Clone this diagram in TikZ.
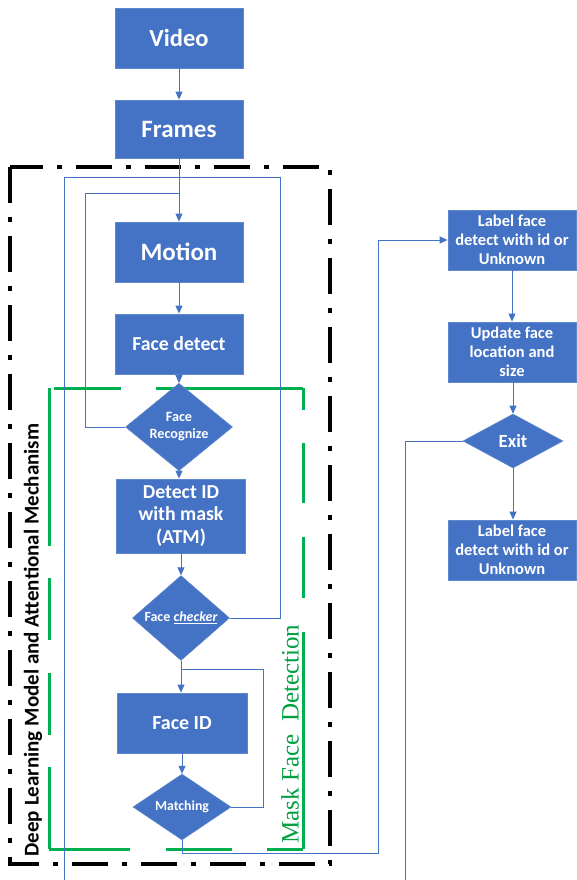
\documentclass[tikz,border=0pt]{standalone}
\usepackage{fontspec}
\setmainfont{Carlito}
\newfontfamily\greenserif{Liberation Serif}
\usetikzlibrary{shapes.geometric,arrows.meta}
\definecolor{ofblue}{HTML}{4472C4}
\definecolor{ofgreen}{HTML}{00B050}
\definecolor{txtgreen}{HTML}{00A040}
\tikzset{
  box/.style={rectangle, fill=ofblue, draw=ofblue!85!white, line width=0.8pt, text=white,
    font=\bfseries, minimum width=128pt, minimum height=60pt, inner sep=0pt, align=center},
  dia/.style={diamond, fill=ofblue, draw=ofblue!85!white, line width=0.6pt, text=white,
    font=\bfseries, inner sep=0pt, align=center},
  flow/.style={draw=ofblue, line width=1pt, -{Triangle[length=8pt,width=7pt]}},
  link/.style={draw=ofblue, line width=0.8pt},
  blackframe/.style={draw=black, line width=4pt, dash pattern=on 36pt off 14pt on 5pt off 14pt},
  greenframe/.style={draw=ofgreen, line width=3pt},
  fs/.style 2 args={font=\bfseries\fontsize{#1}{#2}\selectfont},
}
\begin{document}
\begin{tikzpicture}[x=1pt,y=-1pt]
\useasboundingbox (0,0) rectangle (577,880);

% frames
\draw[blackframe] (10,167) rectangle (330,864);
\draw[greenframe] (54,388) -- (121,388) (156,388) -- (303,388);
\draw[greenframe] (49,388) -- (49,546) (49,578) -- (49,640) (49,673) -- (49,735) (49,767) -- (49,849);
\draw[greenframe] (49,849) -- (130,849) (166,849) -- (232,849) (267,849) -- (303,849);
\draw[greenframe] (303,388) -- (303,410) (303,443) -- (303,503) (303,537) -- (303,598) (303,632) -- (303,849);

% main column
\node[box, minimum height=60pt, fs={24.5}{28}] (video) at (179,38) {Video};
\node[box, minimum height=58pt, fs={25}{28}] (frames) at (179,129) {Frames};
\node[box, minimum height=60pt, fs={25}{28}] (motion) at (179,252) {Motion};
\node[box, minimum height=60pt, fs={19.8}{23}] (fdet) at (179,344) {Face detect};
\node[dia, minimum width=107pt, minimum height=72pt, fs={14.2}{17}] (frec) at (179,427) {Face\\Recognize};
\node[box, minimum width=129pt, minimum height=74pt, fs={19.8}{22.5}] (detid) at (181,516) {Detect ID\\with mask\\(ATM)};
\node[dia, minimum width=97pt, minimum height=84pt, fs={14}{16}] (fchk) at (181,618) {Face \underline{\itshape checker}};
\node[box, minimum width=130pt, minimum height=60pt, fs={20}{24}] (faceid) at (182,723) {Face ID};
\node[dia, minimum width=98pt, minimum height=60pt, fs={13.8}{16}] (match) at (182,807) {Matching};

% right column
\node[box, minimum height=60pt, fs={16.5}{19}] (lab1) at (512,240) {Label face\\detect with id or\\Unknown};
\node[box, minimum height=60pt, fs={16.5}{19}] (upd) at (512,352) {Update face\\location and\\size};
\node[dia, minimum width=100pt, minimum height=54pt, fs={18.6}{22}] (exit) at (513,441) {Exit};
\node[box, minimum height=60pt, fs={16.5}{19}] (lab2) at (512,550) {Label face\\detect with id or\\Unknown};

% side labels
\node[rotate=90, text=black, fs={21}{23}, inner sep=0pt] (dltxt) at (33,640) {Deep Learning Model and Attentional Mechanism};
\node[rotate=90, text=txtgreen, font=\greenserif\fontsize{25}{27}\selectfont, inner sep=0pt] (mfd) at (290,734) {Mask Face\ \ Detection};

% coordinates
\coordinate (i1) at (85,193);
\coordinate (i2) at (179,193);
\coordinate (o1) at (280,177);
\coordinate (o2) at (64,880);
\coordinate (m1) at (263,669);
\coordinate (m2) at (181,669);
\coordinate (b1) at (378,853);
\coordinate (e1) at (405,880);

% connectors
\draw[flow] (video) -- (frames);
\draw[flow] (frames) -- (motion);
\draw[flow] (motion) -- (fdet);
\draw[flow] (fdet) -- (frec);
\draw[flow] (frec.south) -- (frec.south |- detid.north);
\draw[flow] (detid.south -| fchk.north) -- (fchk.north);
\draw[flow] (fchk.south) -- (fchk.south |- faceid.north);
\draw[flow] (faceid.south -| match.north) -- (match.north);
\draw[link] (frec.west) -| (i1) -- (i2);
\draw[link] (fchk.east) -| (o1) -| (o2);
\draw[link] (match.east) -| (m1) -- (m2);
\draw[flow] (match.south) |- (b1) |- (lab1.west);
\draw[flow] (lab1) -- (upd);
\draw[flow] (upd.south -| exit.north) -- (exit.north);
\draw[flow] (exit.south) -- (exit.south |- lab2.north);
\draw[link] (exit.west) -| (e1);
\end{tikzpicture}
\end{document}
